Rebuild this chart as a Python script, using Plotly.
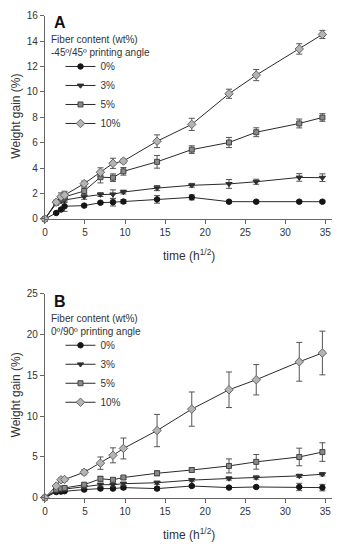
import plotly.graph_objects as go

W, H = 343, 550

# time (h^1/2)
time_sqrt = [0, 1.41, 2, 2.45, 4.9, 6.93, 8.49, 9.8, 14, 18.33, 22.98, 26.38, 31.75, 34.64]

series_names = ["0%", "3%", "5%", "10%"]

# Panel A: -45/45 printing angle
a_0 = [0, 0.47, 0.74, 1.0, 1.05, 1.28, 1.32, 1.37, 1.54, 1.7, 1.36, 1.36, 1.36, 1.36]
a_3 = [0, 1.23, 1.41, 1.49, 1.75, 1.92, 1.94, 2.12, 2.43, 2.65, 2.76, 2.93, 3.27, 3.25]
a_5 = [0, 1.28, 1.6, 1.74, 2.2, 3.29, 3.25, 3.75, 4.5, 5.46, 6.02, 6.83, 7.52, 7.99]
a_10 = [0, 1.32, 1.75, 1.88, 2.78, 3.68, 4.38, 4.56, 6.12, 7.45, 9.86, 11.33, 13.39, 14.53]
a_0_err = [0, 0.05, 0.1, 0.4, 0.1, 0.1, 0.3, 0.15, 0.3, 0.2, 0.1, 0.1, 0.1, 0.1]
a_3_err = [0, 0.1, 0.15, 0.2, 0.2, 0.15, 0.35, 0.15, 0.2, 0.15, 0.35, 0.2, 0.3, 0.3]
a_5_err = [0, 0.15, 0.2, 0.3, 0.3, 0.45, 0.3, 0.3, 0.5, 0.3, 0.4, 0.35, 0.35, 0.3]
a_10_err = [0, 0.15, 0.3, 0.3, 0.2, 0.35, 0.4, 0.15, 0.5, 0.48, 0.36, 0.44, 0.41, 0.32]

# Panel B: 0/90 printing angle
b_0 = [0, 0.7, 0.75, 0.8, 1.0, 1.12, 1.12, 1.24, 1.12, 1.44, 1.24, 1.32, 1.32, 1.24]
b_3 = [0, 0.85, 1.0, 1.05, 1.32, 1.6, 1.6, 1.72, 1.84, 2.16, 2.36, 2.48, 2.68, 2.88]
b_5 = [0, 1.0, 1.13, 1.2, 1.6, 2.32, 2.2, 2.48, 3.0, 3.4, 3.9, 4.4, 5.0, 5.6]
b_10 = [0, 1.44, 2.2, 2.24, 3.12, 4.24, 5.2, 6.04, 8.24, 10.87, 13.24, 14.47, 16.67, 17.75]
b_0_err = [0, 0.1, 0.1, 0.1, 0.15, 0.15, 0.15, 0.2, 0.2, 0.15, 0.15, 0.15, 0.45, 0.4]
b_3_err = [0, 0.1, 0.1, 0.1, 0.15, 0.2, 0.2, 0.2, 0.2, 0.2, 0.2, 0.2, 0.2, 0.2]
b_5_err = [0, 0.1, 0.15, 0.15, 0.2, 0.3, 0.2, 0.2, 0.3, 0.25, 0.86, 0.9, 1.08, 1.14]
b_10_err = [0, 0.15, 0.2, 0.2, 0.3, 0.76, 0.92, 1.28, 1.98, 2.1, 2.18, 1.86, 2.38, 2.68]

x_ticks = [0, 5, 10, 15, 20, 25, 30, 35]
a_y_ticks = [0, 2, 4, 6, 8, 10, 12, 14, 16]
b_y_ticks = [0, 5, 10, 15, 20, 25]

FONT = "Liberation Sans, Arial, sans-serif"
styles = [
    dict(symbol="circle", color="#151515", line=dict(color="#151515", width=1)),
    dict(symbol="triangle-down", color="#2e2e2e", line=dict(color="#2e2e2e", width=1)),
    dict(symbol="square", color="#8a8a8a", line=dict(color="#444444", width=1)),
    dict(symbol="diamond", color="#b4b4b4", line=dict(color="#666666", width=1)),
]
sizes = [5.5, 5.5, 5, 6.5]

fig = go.Figure()

panels = [
    ("x", "y", "legend", [a_0, a_3, a_5, a_10], [a_0_err, a_3_err, a_5_err, a_10_err]),
    ("x2", "y2", "legend2", [b_0, b_3, b_5, b_10], [b_0_err, b_3_err, b_5_err, b_10_err]),
]
for xa, ya, lg, ys, errs in panels:
    for name, yv, ev, st, sz in zip(series_names, ys, errs, styles, sizes):
        fig.add_trace(go.Scatter(
            x=time_sqrt, y=yv, name=name, mode="lines+markers",
            xaxis=xa, yaxis=ya, legend=lg, cliponaxis=False,
            line=dict(color="#2a2a2a", width=1),
            marker=dict(size=sz, **st),
            error_y=dict(type="data", array=ev, visible=True,
                         color="#555555", thickness=1, width=3),
        ))

def px_x(p):
    return p / W

def px_y(p):
    return 1 - p / H

axis_common = dict(
    showline=True, linecolor="#666666", linewidth=1,
    ticks="outside", ticklen=4, tickcolor="#666666", tickwidth=1,
    showgrid=False, zeroline=False,
    tickfont=dict(family=FONT, size=10, color="#333333"),
)

xdom = [px_x(42.3), px_x(332)]
fig.update_layout(
    width=W, height=H,
    margin=dict(l=0, r=0, t=0, b=0),
    paper_bgcolor="white", plot_bgcolor="white",
    font=dict(family=FONT, color="#333333"),
    xaxis=dict(domain=xdom, range=[0, 35.85], tickvals=x_ticks, anchor="y", **axis_common),
    yaxis=dict(domain=[px_y(217.7), px_y(10)], range=[0, 16], tickvals=a_y_ticks, anchor="x", **axis_common),
    xaxis2=dict(domain=xdom, range=[0, 35.85], tickvals=x_ticks, anchor="y2", **axis_common),
    yaxis2=dict(domain=[px_y(502.7), px_y(294.3)], range=[0, 25], tickvals=b_y_ticks, anchor="x2", **axis_common),
    legend=dict(x=px_x(58), y=px_y(47), xanchor="left", yanchor="top",
                bgcolor="rgba(0,0,0,0)", font=dict(family=FONT, size=10, color="#333333"),
                itemwidth=30, tracegroupgap=0),
    legend2=dict(x=px_x(58), y=px_y(47 + 285), xanchor="left", yanchor="top",
                 bgcolor="rgba(0,0,0,0)", font=dict(family=FONT, size=10, color="#333333"),
                 itemwidth=30, tracegroupgap=0),
    showlegend=True,
)

annotations = []
for dy, label, subtitle in [(0, "A", "-45º/45º printing angle"), (285, "B", "0º/90º printing angle")]:
    annotations.append(dict(text="<b>%s</b>" % label, x=px_x(49), y=px_y(16.7 + dy),
                            xref="paper", yref="paper", xanchor="left", yanchor="middle",
                            showarrow=False, font=dict(family=FONT, size=16, color="#111111")))
    annotations.append(dict(text="Fiber content (wt%)<br>" + subtitle, x=px_x(46), y=px_y(41 + dy),
                            xref="paper", yref="paper", xanchor="left", yanchor="middle", align="left",
                            showarrow=False, font=dict(family=FONT, size=10, color="#333333")))
    annotations.append(dict(text="time (h<sup>1/2</sup>)", x=px_x(188), y=px_y(255 + dy),
                            xref="paper", yref="paper", xanchor="center", yanchor="middle",
                            showarrow=False, font=dict(family=FONT, size=12, color="#333333")))
    annotations.append(dict(text="Weight gain (%)", x=px_x(12.7), y=px_y(112.5 + dy), textangle=-90,
                            xref="paper", yref="paper", xanchor="center", yanchor="middle",
                            showarrow=False, font=dict(family=FONT, size=12, color="#333333")))
fig.update_layout(annotations=annotations)

fig.write_html("out.html", config={"displayModeBar": False},
               post_script="document.body.style.margin='0';document.body.style.padding='0';")
